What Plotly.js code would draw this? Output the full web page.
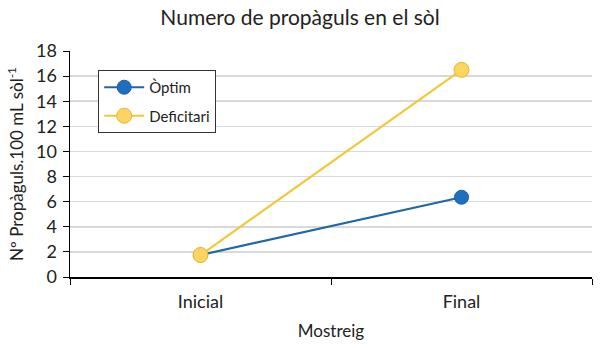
<!DOCTYPE html>
<html><head><meta charset="utf-8">
<script src="https://cdn.plot.ly/plotly-3.0.1.min.js"></script>
<style>body{margin:0;background:#fff}#c{width:600px;height:349px}</style>
</head><body><div id="c"></div>
<script>
const categories = ["Inicial", "Final"];
const optim = [1.75, 6.35];
const deficitari = [1.75, 16.5];
const seriesNames = ["Òptim", "Deficitari"];
const yTicks = [0, 2, 4, 6, 8, 10, 12, 14, 16, 18];

const font = "Lato, 'Open Sans', sans-serif";
const traces = [
  {x: categories, y: optim, name: seriesNames[0], type: "scatter", mode: "lines+markers", legendgroup: "a",
   line: {color: "#2066a8", width: 2.2},
   marker: {size: 14, color: "#1f6fc0", line: {color: "#1a5fa8", width: 1}}},
  {x: categories, y: deficitari, name: seriesNames[1], type: "scatter", mode: "lines+markers", legendgroup: "b",
   line: {color: "#f0c93a", width: 2.2},
   marker: {size: 15, color: "#fbd462", line: {color: "#e6b92c", width: 1}}}
];
const layout = {
  width: 600, height: 349,
  margin: {l: 70, r: 8, t: 51, b: 72},
  paper_bgcolor: "#fff", plot_bgcolor: "#fff",
  font: {family: font, color: "#222"},
  title: {text: "Numero de propàguls en el sòl", font: {size: 21, color: "#222", family: font}, x: 0.5, xanchor: "center", y: 0.95, yanchor: "middle"},
  xaxis: {type: "category", range: [-0.5, 1.5], tickson: "boundaries", ticks: "outside", ticklen: 6, tickcolor: "#000",
    showline: true, linecolor: "#000", linewidth: 1.5, showgrid: false, zeroline: false,
    tickfont: {size: 18, color: "#222"}, ticklabelstandoff: 8,
    title: {text: "Mostreig", font: {size: 17, color: "#222"}, standoff: 14}},
  yaxis: {range: [0, 18], tickvals: yTicks, ticks: "outside", ticklen: 6, tickcolor: "#000",
    showline: true, linecolor: "#000", linewidth: 1.5, gridcolor: "#d9d9d9", gridwidth: 1.5, zeroline: false,
    tickfont: {size: 18, color: "#222"}, ticklabelstandoff: 2,
    title: {text: "Nº Propàguls.100 mL sòl<sup>-1</sup>", font: {size: 17, color: "#222"}, standoff: 8}},
  legend: {x: 0.054, y: 0.916, xanchor: "left", yanchor: "top", bordercolor: "#333", borderwidth: 1,
    bgcolor: "#fff", font: {size: 15, color: "#222"}, traceorder: "grouped", tracegroupgap: 6, itemwidth: 40},
  showlegend: true
};
Plotly.newPlot("c", traces, layout, {displayModeBar: false, staticPlot: true});
</script></body></html>
